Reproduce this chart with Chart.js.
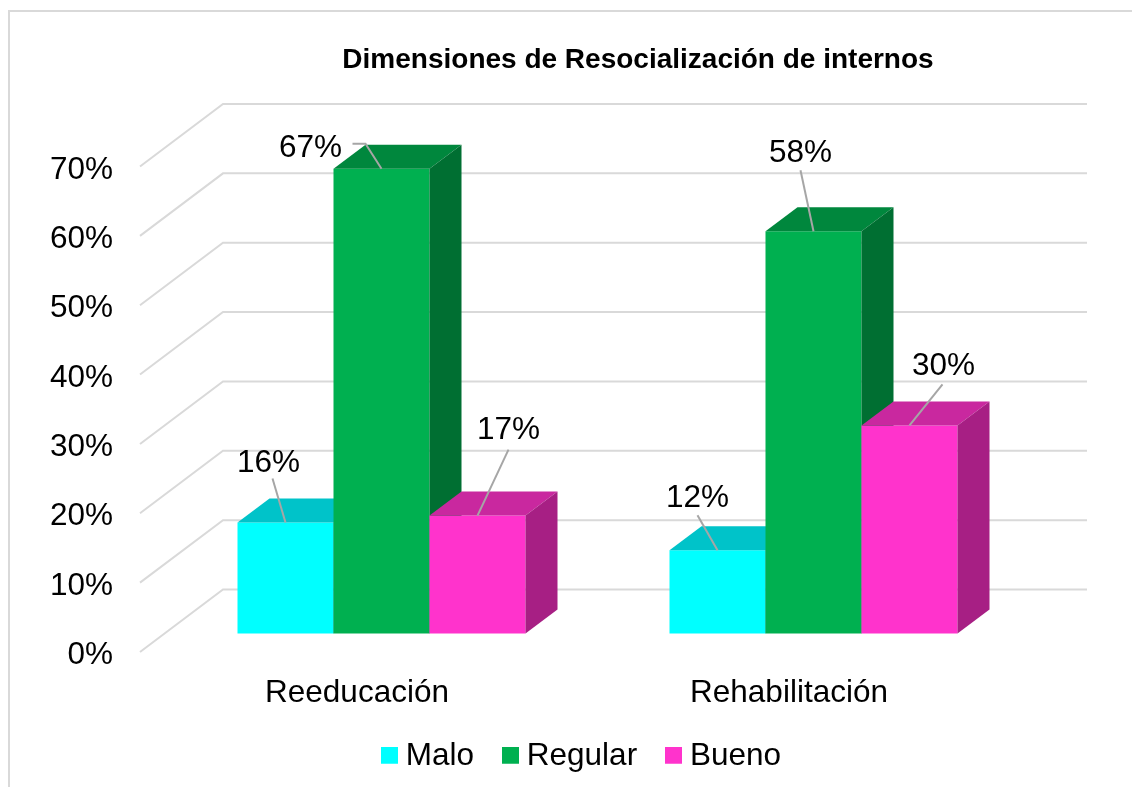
<!DOCTYPE html>
<html>
<head>
<meta charset="utf-8">
<title>Dimensiones de Resocialización de internos</title>
<script src="https://cdn.jsdelivr.net/npm/chart.js@4"></script>
<style>
  html, body { margin: 0; background: #fff; overflow: hidden; }
  #frame { position: absolute; left: 8px; top: 10px; right: 0; bottom: 0; border-left: 2px solid #d9d9d9; border-top: 2px solid #d9d9d9; }
  canvas { position: absolute; left: 0; top: 0; }
</style>
</head>
<body>
<div id="frame"></div>
<canvas id="chart" width="1132" height="787"></canvas>
<script>
// Data
const categories = ["Reeducación", "Rehabilitación"]
const malo    = [16, 12]
const regular = [67, 58]
const bueno   = [17, 30]

const fontFamily = "'Liberation Sans', Arial, sans-serif"
const textSize   = 31.5
const gridColor  = "#d9d9d9"

// 3D look: depth of the bars and of the walls, relative to the bar plane
const barDepth = { x: 32, y: -24 }
const wallFront = { x: -25.5, y: 18.5 }
const wallBack  = { x: 57.5, y: -44 }
const wallRight = 1087

const seriesColors = ["#00ffff", "#00b050", "#ff33cc"]
const topColors    = ["#00c3c9", "#00873d", "#c9289f"]
const sideColors   = ["#009ea3", "#006f32", "#a71f84"]

// Where each value label sits from the top centre of its bar, and its leader line
const labelSpots = [
  [{ dx: -17, dy: -59, line: [[-13, -44]] }, { dx: -20, dy: -52, line: [[-20, -35]] }],
  [{ dx: -71, dy: -20, line: [[-29, -25], [-16, -25]] }, { dx: -13, dy: -78, line: [[-13, -61]] }],
  [{ dx: 31, dy: -85, line: [[31, -66]] }, { dx: 34, dy: -59, line: [[33, -41]] }],
]

function swatch(color) {
  const c = document.createElement("canvas")
  c.width = 17
  c.height = 19
  const g = c.getContext("2d")
  g.fillStyle = color
  g.fillRect(0, 0, 17, 17)
  return c
}

// ─── PLUGINS ───────────────────────────────────────────────────────────────────
const placeBlocks = {
  id: "placeBlocks",
  afterLayout(chart) {
    const t = chart.titleBlock
    const tw = t.right - t.left
    t.left = 638 - tw / 2
    t.right = 638 + tw / 2

    const l = chart.legend
    const lw = l.right - l.left
    l.left = 585 - lw / 2
    l.right = 585 + lw / 2
    l.top -= 5
    l.bottom -= 5
  },
}

const walls = {
  id: "walls",
  beforeDatasetsDraw(chart) {
    const { ctx, chartArea, scales } = chart
    ctx.save()
    ctx.strokeStyle = gridColor
    ctx.lineWidth = 2
    scales.y.ticks.forEach(tick => {
      const y = scales.y.getPixelForValue(tick.value)
      ctx.beginPath()
      ctx.moveTo(chartArea.left + wallFront.x, y + wallFront.y)
      ctx.lineTo(chartArea.left + wallBack.x, y + wallBack.y)
      ctx.lineTo(wallRight, y + wallBack.y)
      ctx.stroke()
    })
    ctx.restore()
  },
}

function fillPoly(ctx, color, pts) {
  ctx.fillStyle = color
  ctx.beginPath()
  pts.forEach((p, i) => i ? ctx.lineTo(p[0], p[1]) : ctx.moveTo(p[0], p[1]))
  ctx.closePath()
  ctx.fill()
}

// Bars go left to right so each one covers the depth faces of its left neighbour
const barFaces = {
  id: "barFaces",
  beforeDatasetDraw() {
    return false
  },
  afterDatasetsDraw(chart) {
    const { ctx } = chart
    chart.data.datasets.forEach((ds, i) => {
      const meta = chart.getDatasetMeta(i)
      meta.controller.draw()
      meta.data.forEach(bar => {
        const l = bar.x - bar.width / 2
        const r = bar.x + bar.width / 2
        const dx = barDepth.x
        const dy = barDepth.y
        fillPoly(ctx, topColors[i], [[l, bar.y], [l + dx, bar.y + dy], [r + dx, bar.y + dy], [r, bar.y]])
        fillPoly(ctx, sideColors[i], [[r, bar.y], [r + dx, bar.y + dy], [r + dx, bar.base + dy], [r, bar.base]])
      })
    })
  },
}

const valueLabels = {
  id: "valueLabels",
  afterDatasetsDraw(chart) {
    const { ctx } = chart
    ctx.save()
    chart.data.datasets.forEach((ds, i) => {
      chart.getDatasetMeta(i).data.forEach((bar, j) => {
        const spot = labelSpots[i][j]
        ctx.strokeStyle = "#a6a6a6"
        ctx.lineWidth = 2
        ctx.beginPath()
        spot.line.forEach((p, k) => {
          if (k) ctx.lineTo(bar.x + p[0], bar.y + p[1])
          else ctx.moveTo(bar.x + p[0], bar.y + p[1])
        })
        ctx.lineTo(bar.x, bar.y)
        ctx.stroke()

        ctx.fillStyle = "#000"
        ctx.font = `${textSize}px ${fontFamily}`
        ctx.textAlign = "center"
        ctx.textBaseline = "middle"
        ctx.fillText(`${ds.data[j]}%`, bar.x + spot.dx, bar.y + spot.dy)
      })
    })
    ctx.restore()
  },
}

// ─── CHART ─────────────────────────────────────────────────────────────────────
const ctx = document.getElementById("chart").getContext("2d")

new Chart(ctx, {
  type: "bar",
  data: {
    labels: categories,
    datasets: [
      { label: "Malo", data: malo, backgroundColor: seriesColors[0] },
      { label: "Regular", data: regular, backgroundColor: seriesColors[1] },
      { label: "Bueno", data: bueno, backgroundColor: seriesColors[2] },
    ],
  },
  options: {
    responsive: false,
    animation: false,
    categoryPercentage: 2 / 3,
    barPercentage: 1,
    layout: { padding: { left: 0, right: 102.5, top: 0, bottom: 0 } },
    plugins: {
      title: {
        display: true,
        text: "Dimensiones de Resocialización de internos",
        color: "#000",
        font: { family: fontFamily, size: 28, weight: "bold", lineHeight: 1.2 },
        padding: { top: 43, bottom: 71.4 },
      },
      legend: {
        position: "bottom",
        onClick: null,
        labels: {
          usePointStyle: true,
          pointStyleWidth: 1,
          padding: 36,
          color: "#000",
          font: { family: fontFamily, size: textSize },
          generateLabels: chart => chart.data.datasets.map((ds, i) => ({
            text: ds.label,
            datasetIndex: i,
            lineWidth: 0,
            fillStyle: ds.backgroundColor,
            pointStyle: swatch(ds.backgroundColor),
          })),
        },
      },
      tooltip: { enabled: false },
    },
    scales: {
      x: {
        grid: { display: false, drawTicks: false },
        border: { display: false },
        afterFit: s => { s.height = 76 },
        ticks: {
          color: "#000",
          font: { family: fontFamily, size: textSize },
          padding: 40.5,
          labelOffset: -24.5,
          maxRotation: 0,
          autoSkip: false,
        },
      },
      y: {
        min: 0,
        max: 70,
        grid: { display: false, drawTicks: false },
        border: { display: false },
        afterFit: s => { s.width = 165.5 },
        ticks: {
          stepSize: 10,
          color: "#000",
          font: { family: fontFamily, size: textSize },
          padding: 52.5,
          labelOffset: 22,
          callback: v => `${v}%`,
        },
      },
    },
  },
  plugins: [placeBlocks, walls, barFaces, valueLabels],
})
</script>
</body>
</html>
